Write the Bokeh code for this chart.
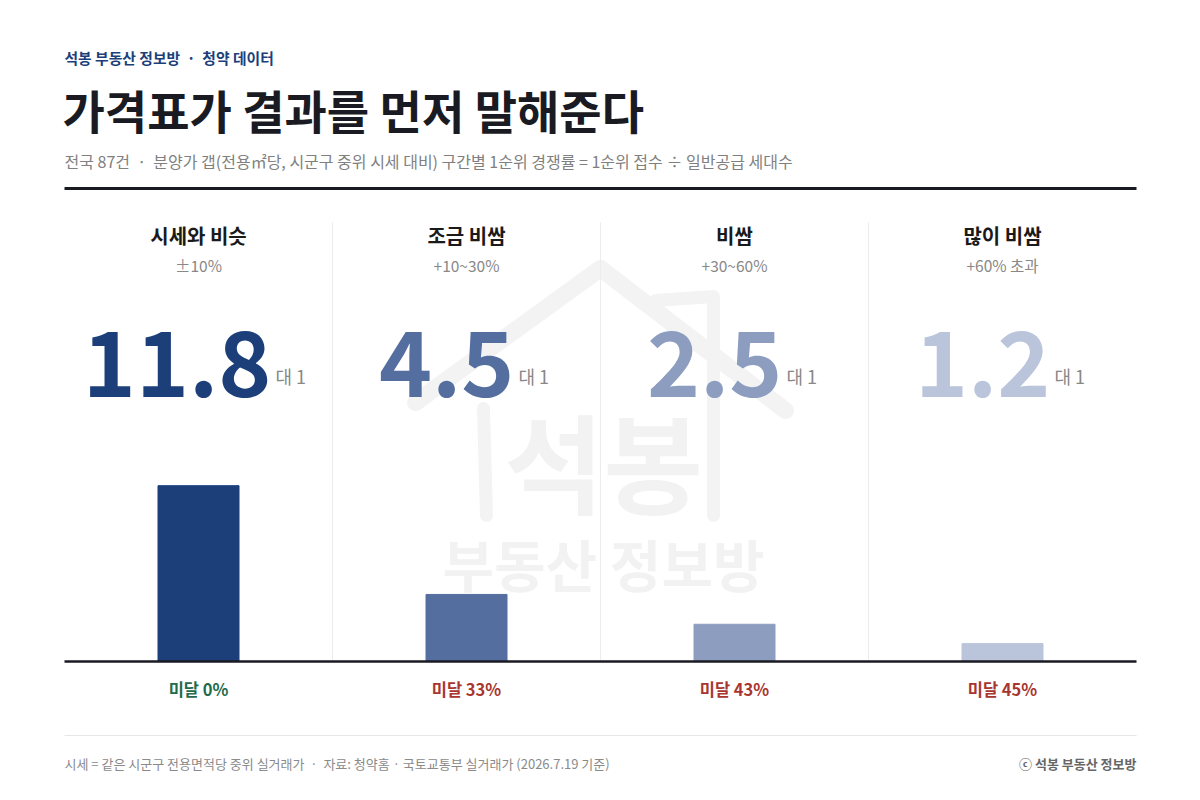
from bokeh.plotting import figure
from bokeh.models import ColumnDataSource, Label, Range1d
from bokeh.core.properties import value
from bokeh.embed import file_html
from bokeh.resources import INLINE

FONT = "Noto Sans CJK KR"
SP = "\u00a0\u00a0·\u00a0\u00a0"

# data
groups = ["시세와 비슷", "조금 비쌈", "비쌈", "많이 비쌈"]
gap_ranges = ["±10%", "+10~30%", "+30~60%", "+60% 초과"]
ratios = [11.8, 4.5, 2.5, 1.2]
ratio_labels = ["11.8", "4.5", "2.5", "1.2"]
shortfall = ["미달 0%", "미달 33%", "미달 43%", "미달 45%"]
bar_colors = ["#1c3f7a", "#546e9f", "#8c9dc0", "#bac5db"]
short_colors = ["#1f6b4c", "#a8362f", "#a8362f", "#a8362f"]

W, H = 1184, 784
COL = 268.0          # px per category column
X0 = 64              # left edge of content
BASE = 661           # bar baseline
PPU = 14.9           # px per ratio unit
NUM_SIZE = 90


def px(x):   # page x -> data x
    return (x - X0) / COL


def py(y):   # page y -> data y
    return (BASE - y) / PPU


def sy(y):   # page y -> screen y (from bottom)
    return H - y


p = figure(width=W, height=H, output_backend="svg", toolbar_location=None,
           x_range=Range1d(px(0), px(W)), y_range=Range1d(py(H), py(0)),
           min_border=0, background_fill_color="white", border_fill_color="white")
p.axis.visible = False
p.grid.visible = False
p.outline_line_color = None

# watermark
wm = "#f2f2f2"
p.line([px(415), px(600), px(785)], [py(402), py(268), py(410)], line_color="#f3f3f3", line_width=17,
       line_cap="round", line_join="round")
p.line([px(483), px(486)], [py(408), py(515)], line_color="#f3f3f3", line_width=13, line_cap="round")
p.line([px(655), px(713), px(713)], [py(300), py(296), py(515)], line_color="#f3f3f3", line_width=13,
       line_cap="round", line_join="round")
p.add_layout(Label(x=603, y=sy(458), x_units="screen", y_units="screen", text="석봉",
                   text_font=FONT, text_font_size="108px", text_font_style="bold",
                   text_color=wm, text_align="center", text_baseline="middle"))
p.add_layout(Label(x=603, y=sy(562), x_units="screen", y_units="screen", text="부동산 정보방",
                   text_font=FONT, text_font_size="56px", text_font_style="bold",
                   text_color=wm, text_align="center", text_baseline="middle"))

# column dividers
for i in range(1, len(groups)):
    p.line([i, i], [py(222), 0], line_color="#ececec", line_width=1)

xc = [i + 0.5 for i in range(len(groups))]


def num_width(s, size=NUM_SIZE):
    return sum(0.31 * size if c == "." else 0.555 * size for c in s)


nw = [num_width(s) for s in ratio_labels]
src = ColumnDataSource(dict(
    x=xc, top=ratios, group=groups, rng=gap_ranges, lab=ratio_labels,
    color=bar_colors, short=shortfall, scolor=short_colors,
    num_off=[(w - 40) / 2 + 4 for w in nw], unit_off=[(w - 40) / 2 + 8 for w in nw],
    unit=["대 1"] * len(groups),
))

p.vbar(x="x", top="top", bottom=0, width=81 / COL, color="color", source=src)
p.line([px(64), px(1136)], [0, 0], line_color="#1a1a22", line_width=2.5)

p.text(x="x", y=py(235), text="group", source=src, text_font=value(FONT),
       text_font_size="20px", text_font_style="bold", text_color="#1a1a1a",
       text_align="center", text_baseline="middle")
p.text(x="x", y=py(264), text="rng", source=src, text_font=value(FONT),
       text_font_size="15.5px", text_color="#888888", text_align="center", text_baseline="middle")
p.text(x="x", y=py(363), text="lab", source=src, x_offset="num_off", text_font=value(FONT),
       text_font_size=f"{NUM_SIZE}px", text_font_style="bold", text_color="color",
       text_align="right", text_baseline="middle")
p.text(x="x", y=py(375), text="unit", source=src, x_offset="unit_off", text_font=value(FONT),
       text_font_size="18px", text_color="#888888", text_align="left", text_baseline="middle")
p.text(x="x", y=py(688), text="short", source=src, text_font=value(FONT),
       text_font_size="16.5px", text_font_style="bold", text_color="scolor",
       text_align="center", text_baseline="middle")

# header
p.add_layout(Label(x=64, y=sy(57), x_units="screen", y_units="screen",
                   text="석봉 부동산 정보방" + SP + "청약 데이터", text_font=FONT, text_font_size="14.8px",
                   text_font_style="bold", text_color="#1c3f7a", text_baseline="middle"))
p.add_layout(Label(x=62, y=sy(108), x_units="screen", y_units="screen",
                   text="가격표가 결과를 먼저 말해준다", text_font=FONT, text_font_size="46px",
                   text_font_style="bold", text_color="#1a1a22", text_baseline="middle"))
p.add_layout(Label(x=64, y=sy(160), x_units="screen", y_units="screen",
                   text="전국 87건" + SP + "분양가 갭(전용㎡당, 시군구 중위 시세 대비) 구간별 1순위 경쟁률 = 1순위 접수 ÷ 일반공급 세대수",
                   text_font=FONT, text_font_size="16px", text_color="#808080", text_baseline="middle"))
p.line([px(64), px(1136)], [py(188), py(188)], line_color="#1a1a22", line_width=3)

# footer
p.line([px(64), px(1136)], [py(735), py(735)], line_color="#e6e6e6", line_width=1)
p.add_layout(Label(x=64, y=sy(763), x_units="screen", y_units="screen",
                   text="시세 = 같은 시군구 전용면적당 중위 실거래가" + SP + "자료: 청약홈 · 국토교통부 실거래가 (2026.7.19 기준)",
                   text_font=FONT, text_font_size="13px", text_color="#8a8a8a", text_baseline="middle"))
p.add_layout(Label(x=1136, y=sy(763), x_units="screen", y_units="screen",
                   text="ⓒ 석봉 부동산 정보방", text_font=FONT, text_font_size="13px",
                   text_font_style="bold", text_color="#666666", text_align="right", text_baseline="middle"))

open("out.html", "w").write(file_html(p, INLINE))
